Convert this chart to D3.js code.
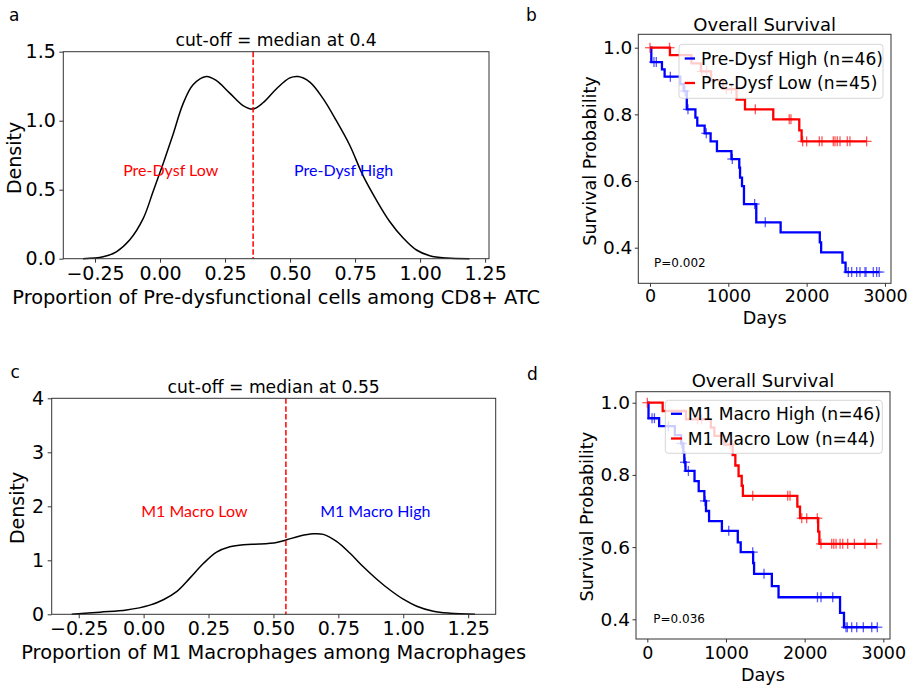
<!DOCTYPE html>
<html><head><meta charset="utf-8">
<script src="https://cdn.jsdelivr.net/npm/d3@7"></script>
<style>body{margin:0;background:#fff}svg{display:block}text{font-family:"DejaVu Sans",sans-serif;fill:#000}</style>
</head><body><svg id="c" width="913" height="687"></svg>
<script>
// ---------------- DATA ----------------
// Panel a: KDE of proportion of pre-dysfunctional cells
const kdeA_x = [-0.296,-0.219,-0.168,-0.117,-0.065,-0.027,0.012,0.05,0.088,0.127,0.178,0.217,0.268,0.319,0.358,0.396,0.447,0.499,0.531,0.576,0.627,0.678,0.729,0.781,0.832,0.883,0.935,0.986,1.037,1.101,1.19];
const kdeA_y = [0,0.014,0.05,0.135,0.29,0.485,0.69,0.90,1.12,1.26,1.32,1.29,1.20,1.11,1.085,1.13,1.23,1.31,1.32,1.28,1.16,1.0,0.824,0.60,0.425,0.27,0.15,0.063,0.022,0.005,0];
const cutA = 0.358;
// Panel c: KDE of proportion of M1 macrophages
const kdeC_x = [-0.277,-0.168,-0.066,0.024,0.076,0.127,0.178,0.23,0.281,0.332,0.384,0.448,0.512,0.551,0.602,0.653,0.692,0.743,0.795,0.846,0.898,0.949,1.0,1.052,1.116,1.18,1.276];
const kdeC_y = [0,0.04,0.08,0.17,0.27,0.42,0.67,0.94,1.15,1.25,1.29,1.30,1.33,1.38,1.45,1.49,1.48,1.35,1.13,0.88,0.65,0.45,0.28,0.15,0.056,0.02,0];
const cutC = 0.548;

const densTicksX = [-0.25,0,0.25,0.5,0.75,1.0,1.25];
const densTicksYA = [0,0.5,1.0,1.5];
const densTicksYC = [0,1,2,3,4];
const kmTicksX = [0,1000,2000,3000];
const kmTicksY = [0.4,0.6,0.8,1.0];

// Panel b: Kaplan-Meier, Pre-Dysf High / Low (step start days, survival after step, censor days)
const bHighT = [0,17,153,187,387,430,470,580,604,698,774,855,1040,1140,1150,1175,1200,1357,1668,2168,2185,2457,2497];
const bHighS = [1.0,0.957,0.935,0.913,0.891,0.87,0.815,0.79,0.766,0.743,0.719,0.69,0.666,0.64,0.61,0.585,0.531,0.476,0.446,0.416,0.386,0.355,0.327];
const bHighC = [51,81,260,447,485,719,1051,1336,1472,2532,2575,2639,2681,2745,2758,2851,2894,2927];
const bLowT = [0,255,530,650,780,935,1106,1213,1574,1906,1936];
const bLowS = [1.0,0.978,0.953,0.929,0.903,0.876,0.844,0.815,0.785,0.752,0.719];
const bLowC = [0,250,660,724,975,1040,1100,1345,1778,1800,1949,2000,2162,2196,2340,2362,2391,2426,2519,2553,2766];

// Panel d: Kaplan-Meier, M1 Macro High / Low
const dHighT = [0,15,150,350,430,458,470,485,600,653,725,746,785,948,1150,1187,1345,1357,1583,1668,2450,2500];
const dHighS = [1.0,0.957,0.935,0.91,0.887,0.862,0.835,0.811,0.783,0.755,0.728,0.70,0.672,0.645,0.613,0.586,0.556,0.526,0.492,0.461,0.418,0.378];
const dHighC = [60,90,268,437,479,522,733,1035,1340,1483,2163,2208,2357,2526,2542,2598,2662,2746,2853,2924];
const dLowT = [0,195,490,808,852,979,1085,1119,1160,1200,1215,1907,1941,2172,2187];
const dLowS = [1.0,0.977,0.954,0.931,0.908,0.884,0.855,0.826,0.797,0.77,0.742,0.712,0.68,0.643,0.609];
const dLowC = [0,640,690,1050,1080,1340,1785,1814,1963,2026,2161,2208,2344,2370,2399,2450,2484,2547,2632,2767,2916];

// ---------------- LAYOUT ----------------
const svg = d3.select("#c");
const BLUE = "#0000ff", RED = "#ff0000", SPINE = "#333";
const minusFmt = f => d => (d < 0 ? "\u2212" : "") + d3.format(f)(Math.abs(d));

function axes(P, xs, ys, o) {
  const g = svg.append("g");
  const gx = g.append("g").attr("transform", `translate(0,${P.b})`)
    .call(d3.axisBottom(xs).tickValues(o.tx).tickFormat(o.fx).tickSizeOuter(0).tickSize(o.tl).tickPadding(o.xpad));
  const gy = g.append("g").attr("transform", `translate(${P.l},0)`)
    .call(d3.axisLeft(ys).tickValues(o.ty).tickFormat(o.fy).tickSizeOuter(0).tickSize(o.tl).tickPadding(o.ypad));
  [gx, gy].forEach(a => { a.select(".domain").remove(); a.selectAll("line").attr("stroke", SPINE); });
  gx.selectAll("text").style("font-size", o.fsx + "px").attr("fill", "#000");
  gy.selectAll("text").style("font-size", o.fsy + "px").attr("fill", "#000");
  return g;
}
function frame(P) {
  svg.append("rect").attr("x", P.l).attr("y", P.t).attr("width", P.r - P.l).attr("height", P.b - P.t)
    .attr("fill", "none").attr("stroke", SPINE).attr("stroke-width", 1);
}
function txt(x, y, s, size, opts = {}) {
  const t = svg.append("text").attr("x", x).attr("y", y).text(s).style("font-size", size + "px")
    .attr("text-anchor", opts.anchor || "middle");
  if (opts.rot) t.attr("transform", `rotate(-90,${x},${y})`);
  if (opts.fill) t.style("fill", opts.fill);
  if (opts.family) t.style("font-family", opts.family);
  if (opts.db) t.attr("dominant-baseline", opts.db);
  return t;
}

function densPanel(P, X, Y, cut, ticksY, fy, L) {
  const xs = d3.scaleLinear().domain(P.xd).range([P.l, P.r]);
  const ys = d3.scaleLinear().domain(P.yd).range([P.b, P.t]);
  axes(P, xs, ys, {tx: densTicksX, ty: ticksY, fx: minusFmt(".2f"), fy: fy, tl: 4, xpad: P.xpad, ypad: 3.5, fsx: 19, fsy: 19});
  const pts = X.map((x, i) => [x, Y[i]]);
  svg.append("path").datum(pts).attr("fill", "none").attr("stroke", "#000").attr("stroke-width", 1.5)
    .attr("d", d3.line().x(d => xs(d[0])).y(d => ys(d[1])).curve(d3.curveCatmullRom.alpha(0.5)));
  svg.append("line").attr("x1", xs(cut)).attr("x2", xs(cut)).attr("y1", P.t).attr("y2", P.b)
    .attr("stroke", RED).attr("stroke-width", 1.5).attr("stroke-dasharray", "5.5,2.4");
  frame(P);
  txt(L.lowX, L.labY, L.low, L.lfs, {fill: RED, family: "Lato", db: "central"});
  txt(L.highX, L.labY, L.high, L.lfs, {fill: BLUE, family: "Lato", db: "central"});
  txt((P.l + P.r) / 2, L.titleY, L.title, 17.2);
  txt((P.l + P.r) / 2, L.xlabY, L.xlab, 19.4);
  txt(L.ylabX, L.ylabY, "Density", 19, {rot: true});
}

function kmPanel(P, series, L) {
  const xs = d3.scaleLinear().domain(P.xd).range([P.l, P.r]);
  const ys = d3.scaleLinear().domain(P.yd).range([P.b, P.t]);
  axes(P, xs, ys, {tx: kmTicksX, ty: kmTicksY, fx: d3.format("d"), fy: d3.format(".1f"), tl: 3.5, xpad: P.xpad, ypad: 2.5, fsx: 17.5, fsy: 18.5});
  series.forEach(s => {
    const end = Math.max(d3.max(s.C), d3.max(s.T));
    const pts = s.T.map((t, i) => [t, s.S[i]]);
    pts.push([end, s.S[s.S.length - 1]]);
    svg.append("path").datum(pts).attr("fill", "none").attr("stroke", s.color).attr("stroke-width", 2.3)
      .attr("d", d3.line().x(d => xs(d[0])).y(d => ys(d[1])).curve(d3.curveStepAfter));
    const surv = t => { let v = s.S[0]; s.T.forEach((tt, i) => { if (tt <= t) v = s.S[i]; }); return v; };
    const m = svg.append("g").attr("stroke", s.color).attr("stroke-width", 1.3).attr("opacity", 0.65);
    s.C.forEach(c => {
      const cx = xs(c), cy = ys(surv(c));
      m.append("line").attr("x1", cx - 5).attr("x2", cx + 5).attr("y1", cy).attr("y2", cy);
      m.append("line").attr("x1", cx).attr("x2", cx).attr("y1", cy - 5).attr("y2", cy + 5);
    });
  });
  // legend
  const lg = L.leg;
  svg.append("rect").attr("x", lg.x).attr("y", lg.y).attr("width", lg.w).attr("height", lg.h).attr("rx", 3)
    .attr("fill", "#fff").attr("fill-opacity", 0.8).attr("stroke", "#ccc").attr("stroke-opacity", 0.8);
  series.forEach((s, i) => {
    const cy = lg.rows[i];
    svg.append("line").attr("x1", lg.hx[0]).attr("x2", lg.hx[1]).attr("y1", cy).attr("y2", cy)
      .attr("stroke", s.color).attr("stroke-width", 2.3);
    txt(lg.tx, cy, s.label, 17.1, {anchor: "start", db: "central"});
  });
  frame(P);
  txt(L.px, L.py, L.p, 12, {anchor: "start", db: "central"});
  txt((P.l + P.r) / 2, L.titleY, "Overall Survival", 18);
  txt((P.l + P.r) / 2, L.xlabY, "Days", 17.6);
  txt(L.ylabX, L.ylabY, "Survival Probability", 17.6, {rot: true});
}

const PA = {l: 63.3, r: 489, t: 51.7, b: 258.7, xd: [-0.372, 1.265], yd: [0, 1.5], xpad: 4};
const PC = {l: 51.7, r: 495.7, t: 398.3, b: 614.3, xd: [-0.354, 1.356], yd: [0, 4], xpad: 3.4};
const PB = {l: 638.3, r: 891, t: 34.3, b: 283.3, xd: [-149, 3077], yd: [0.2932, 1.0402], xpad: 3.2};
const PD = {l: 636, r: 890, t: 391.7, b: 639, xd: [-144, 3085], yd: [0.3454, 1.0305], xpad: 4.2};

densPanel(PA, kdeA_x, kdeA_y, cutA, densTicksYA, d3.format(".1f"), {
  low: "Pre-Dysf Low", high: "Pre-Dysf High", lowX: 170.7, highX: 343.6, labY: 169.3, lfs: 16,
  title: "cut-off = median at 0.4", titleY: 46,
  xlab: "Proportion of Pre-dysfunctional cells among CD8+ ATC", xlabY: 303.5, ylabX: 21.2, ylabY: 158});
densPanel(PC, kdeC_x, kdeC_y, cutC, densTicksYC, d3.format("d"), {
  low: "M1 Macro Low", high: "M1 Macro High", lowX: 194.4, highX: 375.3, labY: 510.7, lfs: 16,
  title: "cut-off = median at 0.55", titleY: 393,
  xlab: "Proportion of M1 Macrophages among Macrophages", xlabY: 659.2, ylabX: 23.9, ylabY: 508});

kmPanel(PB, [
  {T: bHighT, S: bHighS, C: bHighC, color: BLUE, label: "Pre-Dysf High (n=46)"},
  {T: bLowT, S: bLowS, C: bLowC, color: RED, label: "Pre-Dysf Low (n=45)"}], {
  leg: {x: 679, y: 44.3, w: 204, h: 54, rows: [58.5, 83], hx: [684.7, 695], tx: 701},
  p: "P=0.002", px: 654, py: 262.7, titleY: 30.5, xlabY: 324, ylabX: 595.5, ylabY: 161});
kmPanel(PD, [
  {T: dHighT, S: dHighS, C: dHighC, color: BLUE, label: "M1 Macro High (n=46)"},
  {T: dLowT, S: dLowS, C: dLowC, color: RED, label: "M1 Macro Low (n=44)"}], {
  leg: {x: 665.3, y: 400.3, w: 217, h: 53, rows: [413.8, 438.5], hx: [671, 682], tx: 687.7},
  p: "P=0.036", px: 653.3, py: 619.3, titleY: 386.5, xlabY: 680.5, ylabX: 592.8, ylabY: 516.7});

// panel letters
txt(9, 20.7, "a", 17, {anchor: "start"});
txt(526, 21, "b", 17, {anchor: "start"});
txt(10.5, 378.3, "c", 17, {anchor: "start"});
txt(527, 380, "d", 17, {anchor: "start"});
</script></body></html>
